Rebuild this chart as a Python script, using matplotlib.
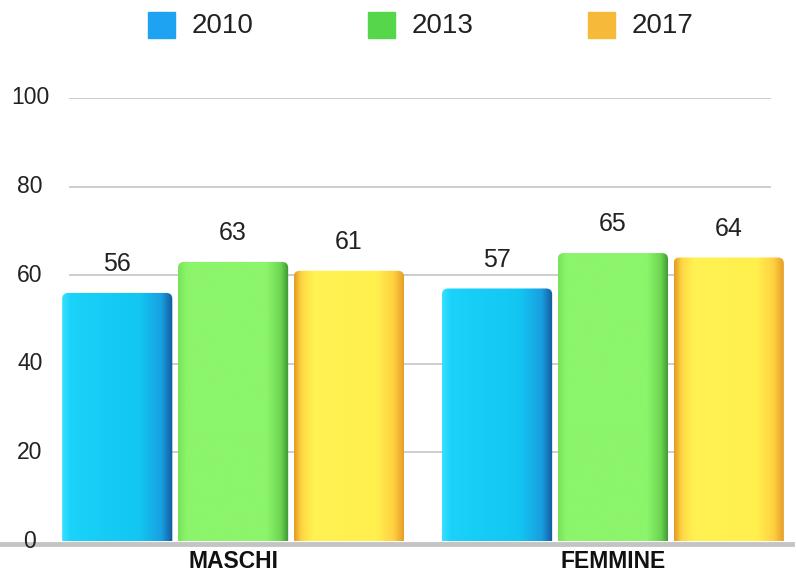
import numpy as np
import matplotlib
matplotlib.use("Agg")
import matplotlib.pyplot as plt
from matplotlib.colors import LinearSegmentedColormap
from matplotlib.patches import Rectangle, FancyBboxPatch
from matplotlib.lines import Line2D

plt.rcParams['font.family'] = ['Liberation Sans', 'DejaVu Sans']

categories = ["MASCHI", "FEMMINE"]
years = ["2010", "2013", "2017"]
values = {
    "2010": [56, 57],
    "2013": [63, 65],
    "2017": [61, 64],
}
y_ticks = [0, 20, 40, 60, 80, 100]

legend_colors = ["#1ea2f2", "#56d64a", "#f6b93a"]
bar_gradients = [
    [(0.0, "#38e0ff"), (0.08, "#1ad2fa"), (0.7, "#12c6f2"), (0.9, "#189fe0"), (1.0, "#14589e")],
    [(0.0, "#78e25a"), (0.08, "#8cf56c"), (0.8, "#8cf56c"), (0.93, "#6cd450"), (1.0, "#3a9430")],
    [(0.0, "#e39a22"), (0.07, "#ffd844"), (0.18, "#fff252"), (0.75, "#fff04e"), (0.9, "#ffd040"), (1.0, "#e49a26")],
]

W, H = 796, 572
fig = plt.figure(figsize=(W / 100, H / 100), dpi=100)

ax_l, ax_r, ax_b, ax_t = 50, 785, 541, 98
ax = fig.add_axes([ax_l / W, 1 - ax_b / H, (ax_r - ax_l) / W, (ax_b - ax_t) / H])

x = np.arange(len(categories))
step = 0.305
bar_w = 0.29
xlim = (-0.482, 1.453)
ylim = (0, 100)

px_per_x = (ax_r - ax_l) / (xlim[1] - xlim[0])
px_per_y = (ax_b - ax_t) / (ylim[1] - ylim[0])

# light horizontal gridlines
for t in y_ticks[1:]:
    ax.axhline(t, xmin=(70 - ax_l) / (ax_r - ax_l), xmax=(770 - ax_l) / (ax_r - ax_l),
               color="#c9c9c9", lw=1.3, zorder=1)

# bars: rounded outline used as clip path for a horizontal shading image
rs = 6 / px_per_x
for i, yr in enumerate(years):
    cmap = LinearSegmentedColormap.from_list(f"shade{yr}", bar_gradients[i])
    grad = np.linspace(0, 1, 256)[np.newaxis, :]
    bars = ax.bar(x + (i - 1) * step, values[yr], width=bar_w, color="none",
                  edgecolor="none", zorder=3)
    for b, v in zip(bars, values[yr]):
        x0 = b.get_x()
        shape = FancyBboxPatch((x0, -5), b.get_width(), v + 5,
                               boxstyle=f"round,pad=0,rounding_size={rs}",
                               mutation_aspect=px_per_x / px_per_y,
                               facecolor="none", edgecolor="none")
        ax.add_patch(shape)
        im = ax.imshow(grad, cmap=cmap, aspect="auto", zorder=3,
                       extent=[x0, x0 + b.get_width(), 0, v], interpolation="bicubic")
        im.set_clip_path(shape)
        ax.annotate(f"{v}", (x0 + b.get_width() / 2, v), xytext=(0, 12),
                    textcoords="offset points", ha="center", va="bottom",
                    fontsize=18, color="#222222")

ax.set_xlim(*xlim)
ax.set_ylim(*ylim)
for s in ax.spines.values():
    s.set_visible(False)
ax.set_xticks([])
ax.set_yticks([])
ax.patch.set_alpha(0)

# y tick labels
for t in y_ticks:
    py = ax_b - px_per_y * t
    fig.text(30 / W, 1 - py / H, str(t), ha="center", va="center",
             fontsize=16.5, color="#222222")

# baseline shadow
fig.add_artist(Line2D([0, 792 / W], [1 - 544 / H] * 2, color="#c4c4c4", lw=3.5, zorder=0))

# category labels
for xi, c in zip(x, categories):
    px = ax_l + (xi - xlim[0]) * px_per_x
    fig.text(px / W, 1 - 561 / H, c, ha="center", va="center", fontsize=16.5,
             fontweight="bold", color="#111111")

# legend
sw_x = [148, 368, 588]
for sx, yr, col in zip(sw_x, years, legend_colors):
    fig.add_artist(Rectangle((sx / W, 1 - 38 / H), 27 / W, 26 / H, color=col,
                             transform=fig.transFigure))
    fig.text((sx + 44) / W, 1 - 26 / H, yr, ha="left", va="center",
             fontsize=20, color="#222222")

fig.savefig("out.png", dpi=100)
